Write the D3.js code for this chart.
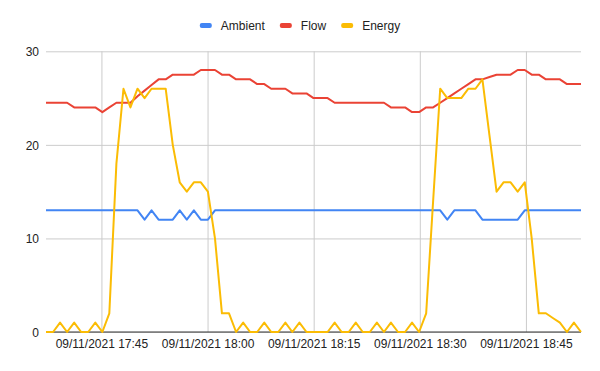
<!DOCTYPE html>
<html>
<head>
<meta charset="utf-8">
<script src="https://cdnjs.cloudflare.com/ajax/libs/d3/7.8.5/d3.min.js"></script>
<style>
  body { margin: 0; background: #fff; }
  svg text { font-family: Arial, "Liberation Sans", sans-serif; font-size: 12px; fill: #222; }
</style>
</head>
<body>
<div id="chart"></div>
<script>
// readings, one per minute (the logger drifts a little)
var day = "2021-11-09"
var times = [
  "17:37:10", "17:38:10", "17:39:09", "17:40:09", "17:41:09", "17:42:08", "17:43:08", "17:44:08", "17:45:08", "17:46:07",
  "17:47:07", "17:48:07", "17:49:06", "17:50:06", "17:51:06", "17:52:05", "17:53:05", "17:54:05", "17:55:05", "17:56:04",
  "17:57:04", "17:58:04", "17:59:03", "18:00:03", "18:01:03", "18:02:02", "18:03:02", "18:04:02", "18:05:02", "18:06:01",
  "18:07:01", "18:08:01", "18:09:00", "18:10:00", "18:11:00", "18:11:59", "18:12:59", "18:13:59", "18:14:59", "18:15:58",
  "18:16:58", "18:17:58", "18:18:57", "18:19:57", "18:20:57", "18:21:56", "18:22:56", "18:23:56", "18:24:56", "18:25:55",
  "18:26:55", "18:27:55", "18:28:54", "18:29:54", "18:30:54", "18:31:53", "18:32:53", "18:33:53", "18:34:53", "18:35:52",
  "18:36:52", "18:37:52", "18:38:51", "18:39:51", "18:40:51", "18:41:50", "18:42:50", "18:43:50", "18:44:50", "18:45:49",
  "18:46:49", "18:47:49", "18:48:48", "18:49:48", "18:50:48", "18:51:47", "18:52:47"
]
var ambient = [
  13, 13, 13, 13, 13, 13, 13, 13, 13, 13,
  13, 13, 13, 13, 12, 13, 12, 12, 12, 13,
  12, 13, 12, 12, 13, 13, 13, 13, 13, 13,
  13, 13, 13, 13, 13, 13, 13, 13, 13, 13,
  13, 13, 13, 13, 13, 13, 13, 13, 13, 13,
  13, 13, 13, 13, 13, 13, 13, 12, 13, 13,
  13, 13, 12, 12, 12, 12, 12, 12, 13, 13,
  13, 13, 13, 13, 13, 13, 13
]
var flow = [
  24.5, 24.5, 24.5, 24.5, 24, 24, 24, 24, 23.5, 24,
  24.5, 24.5, 24.5, 25.2, 25.8, 26.4, 27, 27, 27.5, 27.5,
  27.5, 27.5, 28, 28, 28, 27.5, 27.5, 27, 27, 27,
  26.5, 26.5, 26, 26, 26, 25.5, 25.5, 25.5, 25, 25,
  25, 24.5, 24.5, 24.5, 24.5, 24.5, 24.5, 24.5, 24.5, 24,
  24, 24, 23.5, 23.5, 24, 24, 24.5, 25, 25.5, 26,
  26.5, 27, 27, 27.25, 27.5, 27.5, 27.5, 28, 28, 27.5,
  27.5, 27, 27, 27, 26.5, 26.5, 26.5
]
var energy = [
  0, 0, 1, 0, 1, 0, 0, 1, 0, 2,
  18, 26, 24, 26, 25, 26, 26, 26, 20, 16,
  15, 16, 16, 15, 10, 2, 2, 0, 1, 0,
  0, 1, 0, 0, 1, 0, 1, 0, 0, 0,
  0, 1, 0, 0, 1, 0, 0, 1, 0, 1,
  0, 0, 1, 0, 2, 14, 26, 25, 25, 25,
  26, 26, 27, 21, 15, 16, 16, 15, 16, 10,
  2, 2, 1.5, 1, 0, 1, 0
]
var seriesNames = ["Ambient", "Flow", "Energy"]
var seriesColors = ["#4285f4", "#ea4335", "#fbbc04"]
var yTicks = [0, 10, 20, 30]

var width = 600, height = 371
var margin = { top: 51.3, right: 19, bottom: 39, left: 46 }

var svg = d3.select("#chart")
  .append("svg")
  .attr("width", width)
  .attr("height", height)

var parse = d3.timeParse("%Y-%m-%d %H:%M:%S")
var dates = times.map(function (t) { return parse(day + " " + t) })

var x = d3.scaleTime()
  .domain(d3.extent(dates))
  .range([margin.left, width - margin.right])

var y = d3.scaleLinear()
  .domain([0, 30])
  .range([height - margin.bottom, margin.top])

// horizontal grid + y labels
svg.append("g")
  .attr("transform", "translate(" + margin.left + ",0)")
  .call(d3.axisLeft(y).tickValues(yTicks).tickSize(-(width - margin.left - margin.right)).tickPadding(7))
  .call(function (g) { g.select(".domain").remove() })
  .call(function (g) {
    g.selectAll(".tick line").attr("stroke", "#cccccc")
    g.selectAll(".tick text").attr("font-size", null).attr("font-family", null).attr("dy", "0.35em")
  })

// vertical grid every 15 minutes + time labels
svg.append("g")
  .attr("transform", "translate(0," + (height - margin.bottom) + ")")
  .call(d3.axisBottom(x)
    .ticks(d3.timeMinute.every(15))
    .tickFormat(d3.timeFormat("%d/%m/%Y %H:%M"))
    .tickSize(-(height - margin.bottom - margin.top))
    .tickPadding(7))
  .call(function (g) { g.select(".domain").remove() })
  .call(function (g) {
    g.selectAll(".tick line").attr("stroke", "#cccccc")
    g.selectAll(".tick text").attr("font-size", null).attr("font-family", null).attr("dy", "0.75em")
  })

// baseline
svg.append("line")
  .attr("x1", margin.left)
  .attr("x2", width - margin.right)
  .attr("y1", y(0))
  .attr("y2", y(0))
  .attr("stroke", "#333333")

var series = [ambient, flow, energy]

var line = d3.line()
  .x(function (d, i) { return x(dates[i]) })
  .y(function (d) { return y(d) })

svg.selectAll("path.series")
  .data(series)
  .enter()
  .append("path")
  .attr("class", "series")
  .attr("fill", "none")
  .attr("stroke", function (d, i) { return seriesColors[i] })
  .attr("stroke-width", 2)
  .attr("stroke-linejoin", "round")
  .attr("d", line)

// legend, centred at the top
var legend = svg.append("g")
var cursor = 0
seriesNames.forEach(function (name, i) {
  var item = legend.append("g").attr("transform", "translate(" + cursor + ",0)")
  item.append("rect")
    .attr("x", 0)
    .attr("y", 23)
    .attr("width", 12)
    .attr("height", 5)
    .attr("rx", 2)
    .attr("fill", seriesColors[i])
  var t = item.append("text")
    .attr("x", 21)
    .attr("y", 30)
    .text(name)
  cursor += 21 + t.node().getComputedTextLength() + 15
})
cursor -= 15
legend.attr("transform", "translate(" + (width / 2 - cursor / 2) + ",0)")
</script>
</body>
</html>
